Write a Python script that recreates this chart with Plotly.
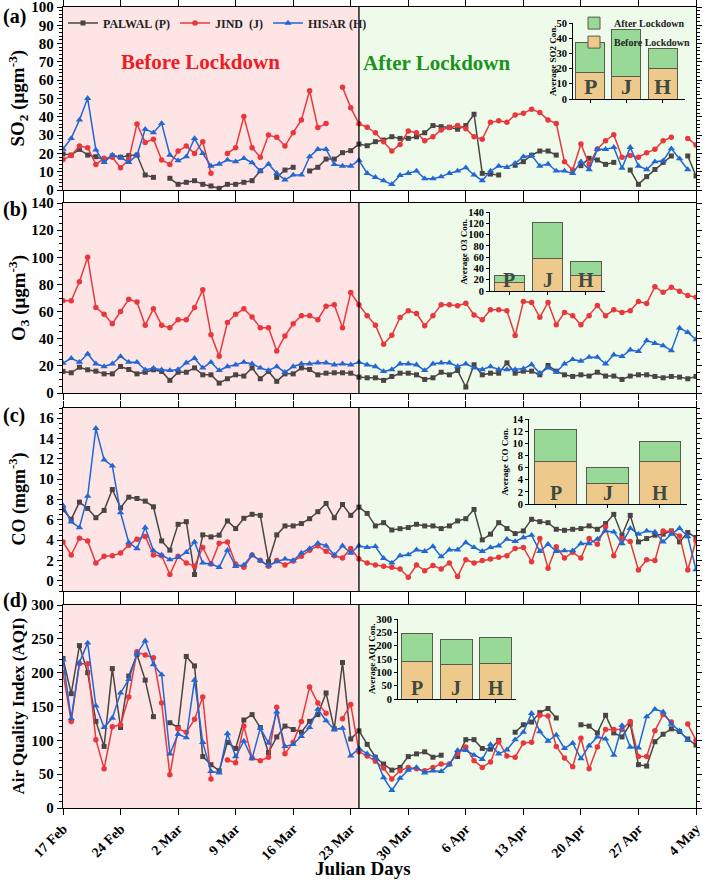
import plotly.graph_objects as go
import pandas as pd

N = None
dates = pd.date_range("2020-02-17", "2020-05-04", freq="D")
lock_date = "2020-03-24"
tick_dates = pd.date_range("2020-02-17", "2020-05-04", freq="7D")
tick_text = ["17 Feb", "24 Feb", "2 Mar", "9 Mar", "16 Mar", "23 Mar",
             "30 Mar", "6 Apr", "13 Apr", "20 Apr", "27 Apr", "4 May"]
stations = ["PALWAL (P)", "JIND  (J)", "HISAR (H)"]

so2_palwal = [19.7, 19.1, 22.2, 19.1, 18.2, 16.6, 18.6, 17.9, 18.8, 19.1, 8.2, 6.9, N, 6.4, 3.1, 4.2, 5.1, 3.1, 2.2, 0.9,
              3.1, 3.1, 4.2, 5.1, 10.5, N, 6.9, 10.9, 12.4, N, 10.4, 12.4, 16.9, 16.9, 20.4, 21.5, 25.1, 24.2, 26.4, 27.3,
              29.1, 28.2, 28.2, 29.1, 31.3, 35.2, 34.6, 34.3, 33.2, 35.2, 41.4, 9.1, 8.7, 8.2, N, 13.5, 15.5, 19.0, 21.3, 21.3,
              19.1, N, N, 13.3, 17.3, 16.4, 14.0, 15.1, N, 10.9, 3.1, 7.3, 11.2, 15.1, 18.6, N, 18.6, 7.7]
so2_jind = [16.6, 18.8, 24.0, 23.1, 14.0, 17.3, 17.9, 12.2, 16.6, 36.1, 26.0, 27.8, 16.4, 14.0, 21.3, 24.0, 20.0, 26.4, 9.1, N,
            20.0, 23.1, 40.1, 23.1, 17.9, 30.0, 28.8, 24.0, 31.3, 38.3, 54.3, 34.1, 36.4, N, 56.1, 45.0, 36.2, 34.3, 31.3, 26.4,
            21.3, 24.9, 32.2, 31.3, 26.9, 29.1, 32.8, 34.1, 35.2, 33.5, 29.1, 27.8, 37.0, 37.9, 37.0, 41.0, 41.9, 44.1, 42.3, 38.3,
            36.4, 15.5, 10.9, 25.1, 14.0, 22.4, 26.9, 30.2, 17.9, 18.8, 17.9, 20.4, 22.2, 26.9, 28.8, N, 28.2, 24.6]
so2_hisar = [22.4, 28.2, 38.3, 50.1, 21.9, 15.1, 19.1, 17.9, 15.1, 19.1, 33.2, 31.3, 36.4, 19.1, 16.0, 18.2, 28.2, 20.0, 13.1, 14.2,
             16.4, 15.5, 17.3, 14.9, 10.4, 14.2, 9.1, 5.5, 8.2, 8.2, 18.2, 22.2, 22.2, 14.0, 13.1, 13.1, 16.2, 9.1, 6.9, 5.1,
             3.1, 8.0, 9.1, 10.4, 6.2, 6.2, 7.3, 9.1, 10.4, 12.2, 8.2, 5.1, 10.4, 13.1, 12.4, 14.6, 18.2, 18.9, 13.1, 14.2,
             10.4, 10.4, 9.1, 15.5, 11.2, 22.2, 22.2, 23.3, 11.9, 23.3, 13.1, 11.2, 15.5, 16.0, 22.6, 17.1, 11.2, N]

o3_palwal = [15.9, 14.9, 19.0, 17.1, 16.1, 14.1, 14.1, 19.5, 17.3, 14.1, 15.3, 17.1, 15.9, 9.3, 15.3, 15.3, 18.5, 13.4, 13.4, 7.3,
             10.5, 13.4, 12.5, 18.5, 10.5, 15.9, 8.6, 14.1, 14.1, 18.5, 17.3, 13.4, 14.6, 14.9, 14.9, 14.6, 11.7, 11.2, 11.2, 9.3,
             12.2, 14.6, 14.6, 13.4, 10.0, 11.2, 15.3, 13.4, 16.6, 4.4, 20.8, 13.4, 14.6, 14.6, 22.2, 14.6, 16.1, 16.1, 13.4, 20.3,
             16.1, 13.4, 12.2, 13.4, 12.5, 15.3, 12.5, 12.5, 10.0, 12.5, 13.4, 13.4, 12.2, 11.2, 12.2, 11.7, 10.5, 12.2]
o3_jind = [68, 68, 82, 100, 63, 58, 51, 60, 69, 67, 50, 62, 50, 48, 54, 54, 63, 76, 43, 27,
           52, 58, 62, 56, 48, 48, 31, 42, 51, 57, 57, 54, 64, 65, 48, 74, 65, 57, 50, 36,
           42.5, 55.7, 60.6, 58.6, 49.6, 57, 65, 65, 64.3, 66.2, 57.5, 54, 61.3, 61.3, 60.6, 42.3, 67.4, 66.7, 55.8, 66.7,
           50.3, 59.4, 57, 50.3, 57, 64.4, 57, 61.3, 59.4, 60.6, 67.4, 66, 78.3, 74.2, 77.9, 74.9, 71.8, 70.5]
o3_hisar = [22.0, 25.6, 22.7, 28.8, 21.5, 19.5, 21.5, 26.9, 22.7, 22.7, 17.1, 18.3, 17.1, 16.6, 17.3, 22.2, 25.6, 18.5, 22.7, 16.6,
            19.5, 20.8, 22.7, 21.5, 18.5, 16.6, 19.5, 15.3, 19.5, 21.5, 21.5, 22.2, 22.2, 20.8, 21.5, 20.8, 22.7, 20.8, 19.5, 15.9,
            17.3, 21.5, 21.5, 20.8, 16.6, 21.5, 22.2, 22.2, 19.5, 21.5, 18.5, 17.3, 19.5, 17.3, 17.3, 17.3, 17.8, 21.0, 14.6, 18.5,
            15.3, 21.5, 24.7, 23.5, 26.4, 26.4, 21.5, 28.1, 26.9, 31.8, 30.6, 38.6, 36.6, 34.9, 31.2, 47.9, 44.7, 39.4]

co_palwal = [7.0, 6.05, 7.74, 7.12, 6.21, 6.93, 8.98, 7.18, 8.23, 8.1, 7.84, 7.28, 3.93, 3.02, 5.56, 5.82, 0.62, 4.52, 4.32, 4.49,
             5.89, 5.14, 6.15, 6.54, 6.44, 1.88, 4.52, 5.4, 5.4, 5.63, 6.11, 6.8, 7.61, 6.21, 7.51, 6.44, 7.25, 6.63, 5.4, 5.72,
             5.0, 5.13, 5.24, 5.56, 5.4, 5.4, 5.14, 5.4, 5.89, 6.11, 7.02, 4.03, 4.59, 5.72, 5.14, 4.65, 4.91, 6.05, 5.82, 5.72,
             5.07, 4.97, 5.07, 5.14, 5.4, 5.07, 5.63, 6.54, 4.49, 6.44, 3.83, 4.16, 4.49, 4.59, 4.91, 3.83, 4.75, 4.26]
co_jind = [3.83, 2.54, 4.2, 3.93, 1.76, 2.41, 2.47, 2.73, 3.51, 4.1, 4.36, 2.54, 2.47, 0.62, 2.41, 1.76, 1.43, 3.28, 1.66, 3.7,
           3.83, 1.66, 1.33, 2.54, 1.99, 1.43, 1.99, 1.56, 1.95, 2.41, 3.02, 3.45, 2.9, 2.47, 2.24, 3.18, 2.15, 1.76, 1.56, 1.43,
           1.33, 1.17, 0.36, 1.56, 1.0, 1.5, 1.17, 1.76, 0.42, 2.08, 1.76, 1.99, 2.15, 2.31, 2.47, 3.18, 3.28, 1.88, 4.16, 1.24,
           3.35, 2.24, 2.8, 2.24, 4.16, 3.61, 5.33, 2.47, 4.2, 3.87, 1.07, 2.08, 1.99, 4.91, 4.85, 4.42, 1.07, 3.96]
co_hisar = [7.4, 5.8, 5.24, 8.33, 15.0, 11.9, 11.3, 6.7, 3.77, 3.18, 5.24, 2.96, 2.54, 2.08, 2.31, 2.8, 3.83, 1.76, 1.66, 1.33,
            3.02, 1.43, 1.56, 2.54, 1.99, 1.5, 1.88, 2.15, 1.99, 2.73, 3.18, 3.7, 3.45, 2.54, 3.45, 2.73, 3.45, 3.28, 3.38, 2.21,
            1.76, 2.47, 2.57, 3.05, 2.9, 3.38, 2.37, 3.05, 3.05, 3.77, 3.28, 2.9, 3.28, 3.45, 4.1, 3.87, 4.26, 4.49, 2.9, 3.61,
            2.9, 2.96, 2.96, 3.67, 3.67, 4.1, 4.91, 4.81, 3.67, 5.17, 4.59, 4.91, 4.81, 3.83, 4.59, 5.17, 4.36, 1.1]

aqi_palwal = [221, 169, 240, 200, 128, 91, 206, 119, 195, 227, 189, 135, N, 126, 119, 224, 210, 76, 64, 55,
              97, 88, 130, 138, 119, 82, 105, 121, 116, 112, 128, 138, 170, 117, 215, 102, 114, 94, 75, 65,
              56, 60, 76, 80, 83, 75, 78, N, 76, 101, 101, 88, 87, 100, N, 112, 123, 127, 141, 147,
              133, N, N, 123, 121, 111, 137, 111, 105, 124, 64, 62, 98, 109, 117, 113, 102, 93]
aqi_jind = [200, 128, 213, 213, 101, 58, 120, 123, 164, 231, 226, 222, 155, 49, 117, 112, 131, 164, 43, N,
            71, 67, 121, 74, 70, 75, 149, 80, 97, 128, 179, 155, 140, N, 132, 153, 83, 77, 69, 59,
            43, 55, 60, 58, 55, 60, 65, 65, 81, 90, 70, 60, 68, 98, 77, 75, 96, 97, 137, 136,
            91, 74, 61, 103, 58, 90, 116, 116, 116, 128, 76, 76, 114, 138, 127, N, 124, 100]
aqi_hisar = [219, 132, 215, 244, 151, 119, 133, 170, 190, 228, 247, 212, 197, 80, 109, 104, 189, 97, 54, 52,
             110, 76, 99, 73, 118, 96, 142, 91, 94, 106, 119, 146, 129, 116, 118, 77, 88, 80, 75, 45,
             26, 44, 56, 60, 52, 55, 54, 64, 85, 85, 78, 72, 94, 80, 86, 101, 112, 140, 113, 99,
             108, 88, 96, 73, 92, 105, 102, 78, 122, 90, 89, 135, 146, 142, 124, 114, 100, N]

bar_letters = ["P", "J", "H"]
so2_before = [17.5, 14.5, 20.0]
so2_after = [19.5, 31.0, 13.0]
o3_before = [15.5, 58.0, 27.0]
o3_after = [12.5, 63.0, 25.0]
co_before = [7.0, 3.3, 7.0]
co_after = [5.2, 2.7, 3.3]
aqi_before = [142, 128, 132]
aqi_after = [105, 97, 98]

# ---------------- styling / layout ----------------
W, H = 708, 882
ML, MR, MT, MB = 63, 12, 7, 74
PW, PH = W - ML - MR, H - MT - MB
FONT = "Liberation Serif"
C_GRAY, C_RED, C_BLUE = "#4a4444", "#e8383d", "#2367d3"
C_PINK, C_GREEN = "#fde5e5", "#eefbea"
C_BEF, C_AFT = "#eec98c", "#98d998"


def ydom(top, bot):
    return [(H - MB - bot) / PH, (H - MB - top) / PH]


def xdom(left, right):
    return [(left - ML) / PW, (right - ML) / PW]


def px_x(x):
    return (x - ML) / PW


def px_y(y):
    return (H - MB - y) / PH


panels = [
    dict(series=[so2_palwal, so2_jind, so2_hisar], rng=[0, 100], dtick=10, dom=ydom(7, 190),
         title="SO<sub>2</sub> (μgm<sup>-3</sup>)", lab="(a)", tsize=19, laby=3),
    dict(series=[o3_palwal, o3_jind, o3_hisar], rng=[0, 140], dtick=20, dom=ydom(203, 393),
         title="O<sub>3</sub> (μgm<sup>-3</sup>)", lab="(b)", tsize=19, laby=196),
    dict(series=[co_palwal, co_jind, co_hisar], rng=[-1, 17], dtick=2, dom=ydom(408, 591),
         title="CO (mgm<sup>-3</sup>)", lab="(c)", tsize=18, laby=402),
    dict(series=[aqi_palwal, aqi_jind, aqi_hisar], rng=[0, 300], dtick=50, dom=ydom(605, 808),
         title="Air Quality Index (AQI)", lab="(d)", tsize=17, laby=587),
]

insets = [
    dict(before=so2_before, after=so2_after, rng=[0, 50], dtick=10, xd=xdom(573, 685), yd=ydom(23, 99),
         xr=[-0.47, 2.62], title="Average SO2 Con.", tx=553, lsize=22),
    dict(before=o3_before, after=o3_after, rng=[0, 140], dtick=20, xd=xdom(490, 605), yd=ydom(212, 291),
         xr=[-0.51, 2.5], title="Average O3 Con.", tx=464, lsize=20),
    dict(before=co_before, after=co_after, rng=[0, 14], dtick=2, xd=xdom(529, 687), yd=ydom(419, 504),
         xr=[-0.51, 2.52], title="Average CO Con.", tx=505, lsize=20),
    dict(before=aqi_before, after=aqi_after, rng=[0, 300], dtick=50, xd=xdom(398, 516), yd=ydom(619, 699),
         xr=[-0.49, 2.52], title="Average AQI Con.", tx=372, lsize=20),
]

fig = go.Figure()
colors = [C_GRAY, C_RED, C_BLUE]
symbols = ["square", "circle", "triangle-up"]
msizes = [5, 5.5, 6.5]
shapes, annotations = [], []

for i, p in enumerate(panels):
    k = i + 1
    xa, ya = ("x" if k == 1 else f"x{k}"), ("y" if k == 1 else f"y{k}")
    for s, name in enumerate(stations):
        fig.add_trace(go.Scatter(
            x=dates, y=p["series"][s], mode="lines+markers", name=name,
            line=dict(color=colors[s], width=1.5),
            marker=dict(symbol=symbols[s], size=msizes[s], color=colors[s]),
            connectgaps=False, showlegend=(k == 1), legend="legend",
            xaxis=xa, yaxis=ya))
    yref_dom = f"{ya} domain"
    shapes.append(dict(type="rect", xref=xa, yref=yref_dom, x0=dates[0], x1=lock_date, y0=0, y1=1,
                       fillcolor=C_PINK, line=dict(width=0), layer="below"))
    shapes.append(dict(type="rect", xref=xa, yref=yref_dom, x0=lock_date, x1=dates[-1], y0=0, y1=1,
                       fillcolor=C_GREEN, line=dict(width=0), layer="below"))
    shapes.append(dict(type="line", xref=xa, yref=yref_dom, x0=lock_date, x1=lock_date, y0=0, y1=1,
                       line=dict(color="black", width=1.3), layer="above"))
    axis_x = dict(type="date", domain=[0, 1], anchor=ya, range=[dates[0], dates[-1]], automargin=False,
                  tickvals=list(tick_dates), ticktext=tick_text, showticklabels=(k == 4),
                  ticklabeloverflow="allow",
                  tickangle=-45, ticks="outside", ticklen=6, tickwidth=1.2, tickcolor="black",
                  showline=True, linecolor="black", linewidth=1.3, mirror="ticks", showgrid=False,
                  zeroline=False, tickfont=dict(family=FONT, size=14, color="black", weight="bold"))
    axis_y = dict(domain=p["dom"], anchor=xa, range=p["rng"], dtick=p["dtick"], tick0=0, automargin=False,
                  ticklabeloverflow="allow",
                  ticks="outside", ticklen=5, tickwidth=1.2, tickcolor="black",
                  minor=dict(ticks="outside", ticklen=3, tickcolor="black", showgrid=False),
                  showline=True, linecolor="black", linewidth=1.3, mirror="ticks", showgrid=False,
                  zeroline=False, tickfont=dict(family=FONT, size=15, color="black", weight="bold"))
    fig.layout["xaxis" if k == 1 else f"xaxis{k}"] = axis_x
    fig.layout["yaxis" if k == 1 else f"yaxis{k}"] = axis_y
    ymid = (p["dom"][0] + p["dom"][1]) / 2
    annotations.append(dict(text=f"<b>{p['title']}</b>", xref="paper", yref="paper", x=px_x(18), y=ymid,
                            xanchor="center", yanchor="middle", textangle=-90, showarrow=False,
                            font=dict(family=FONT, size=p["tsize"], color="black")))
    annotations.append(dict(text=f"<b>{p['lab']}</b>", xref="paper", yref="paper", x=px_x(1), y=px_y(p["laby"]),
                            xanchor="left", yanchor="top", showarrow=False,
                            font=dict(family=FONT, size=20, color="black")))

annotations.append(dict(text="<b>Julian Days</b>", xref="paper", yref="paper", x=px_x(363), y=px_y(868),
                        xanchor="center", yanchor="middle", showarrow=False,
                        font=dict(family=FONT, size=19, color="black")))

# insets
for j, ins in enumerate(insets):
    k = j + 5
    xa, ya = f"x{k}", f"y{k}"
    fig.add_trace(go.Bar(x=[0, 1, 2], y=ins["before"], name="Before Lockdown", width=0.8,
                         marker=dict(color=C_BEF, line=dict(color="#5a5a50", width=1)),
                         showlegend=(j == 0), legend="legend2", xaxis=xa, yaxis=ya))
    fig.add_trace(go.Bar(x=[0, 1, 2], y=ins["after"], name="After Lockdown", width=0.8,
                         marker=dict(color=C_AFT, line=dict(color="#5a5a50", width=1)),
                         showlegend=(j == 0), legend="legend2", xaxis=xa, yaxis=ya))
    fig.layout[f"xaxis{k}"] = dict(domain=ins["xd"], anchor=ya, range=ins["xr"], tickvals=[0, 1, 2],
                                   showticklabels=False, ticks="outside", ticklen=3, tickcolor="black",
                                   automargin=False,
                                   showline=True, linecolor="black", linewidth=1, showgrid=False, zeroline=False)
    fig.layout[f"yaxis{k}"] = dict(domain=ins["yd"], anchor=xa, range=ins["rng"], dtick=ins["dtick"],
                                   ticks="outside", ticklen=3, tickcolor="black", automargin=False,
                                   ticklabeloverflow="allow",
                                   showline=True, linecolor="black", linewidth=1, showgrid=False, zeroline=False,
                                   tickfont=dict(family=FONT, size=10.5, color="black", weight="bold"))
    ymid = (ins["yd"][0] + ins["yd"][1]) / 2
    annotations.append(dict(text=f"<b>{ins['title']}</b>", xref="paper", yref="paper", x=px_x(ins["tx"]), y=ymid,
                            xanchor="center", yanchor="middle", textangle=-90, showarrow=False,
                            font=dict(family=FONT, size=9, color="black")))
    for b, letter in enumerate(bar_letters):
        annotations.append(dict(text=f"<b>{letter}</b>", xref=xa, yref=f"{ya} domain", x=b, y=-0.02,
                                xanchor="center", yanchor="bottom", showarrow=False,
                                font=dict(family=FONT, size=ins["lsize"], color="#3d4a3f")))

annotations.append(dict(text="<b>Before Lockdown</b>", xref="paper", yref="paper", x=px_x(200),
                        y=px_y(62), showarrow=False, xanchor="center", yanchor="middle",
                        font=dict(family=FONT, size=21, color="#ec1c24")))
annotations.append(dict(text="<b>After Lockdown</b>", xref="paper", yref="paper", x=px_x(437),
                        y=px_y(63), showarrow=False, xanchor="center", yanchor="middle",
                        font=dict(family=FONT, size=21, color="#1b931b")))

fig.update_layout(
    width=W, height=H, margin=dict(l=ML, r=MR, t=MT, b=MB, autoexpand=False),
    paper_bgcolor="white", plot_bgcolor="rgba(0,0,0,0)",
    barmode="stack", bargap=0.2,
    shapes=shapes, annotations=annotations,
    legend=dict(orientation="h", x=0.0, y=0.998, xanchor="left", yanchor="top",
                bgcolor="rgba(0,0,0,0)", font=dict(family=FONT, size=12, color="#222", weight="bold"),
                itemwidth=30, tracegroupgap=0),
    legend2=dict(orientation="v", x=1.0, y=0.998, xanchor="right", yanchor="top",
                 traceorder="reversed", bgcolor="rgba(0,0,0,0)", itemwidth=30,
                 font=dict(family=FONT, size=10, color="#222", weight="bold"), tracegroupgap=0),
)

fig.write_html("out.html", config={"displayModeBar": False},
               post_script="document.body.style.margin='0px';document.body.style.overflow='hidden';")
